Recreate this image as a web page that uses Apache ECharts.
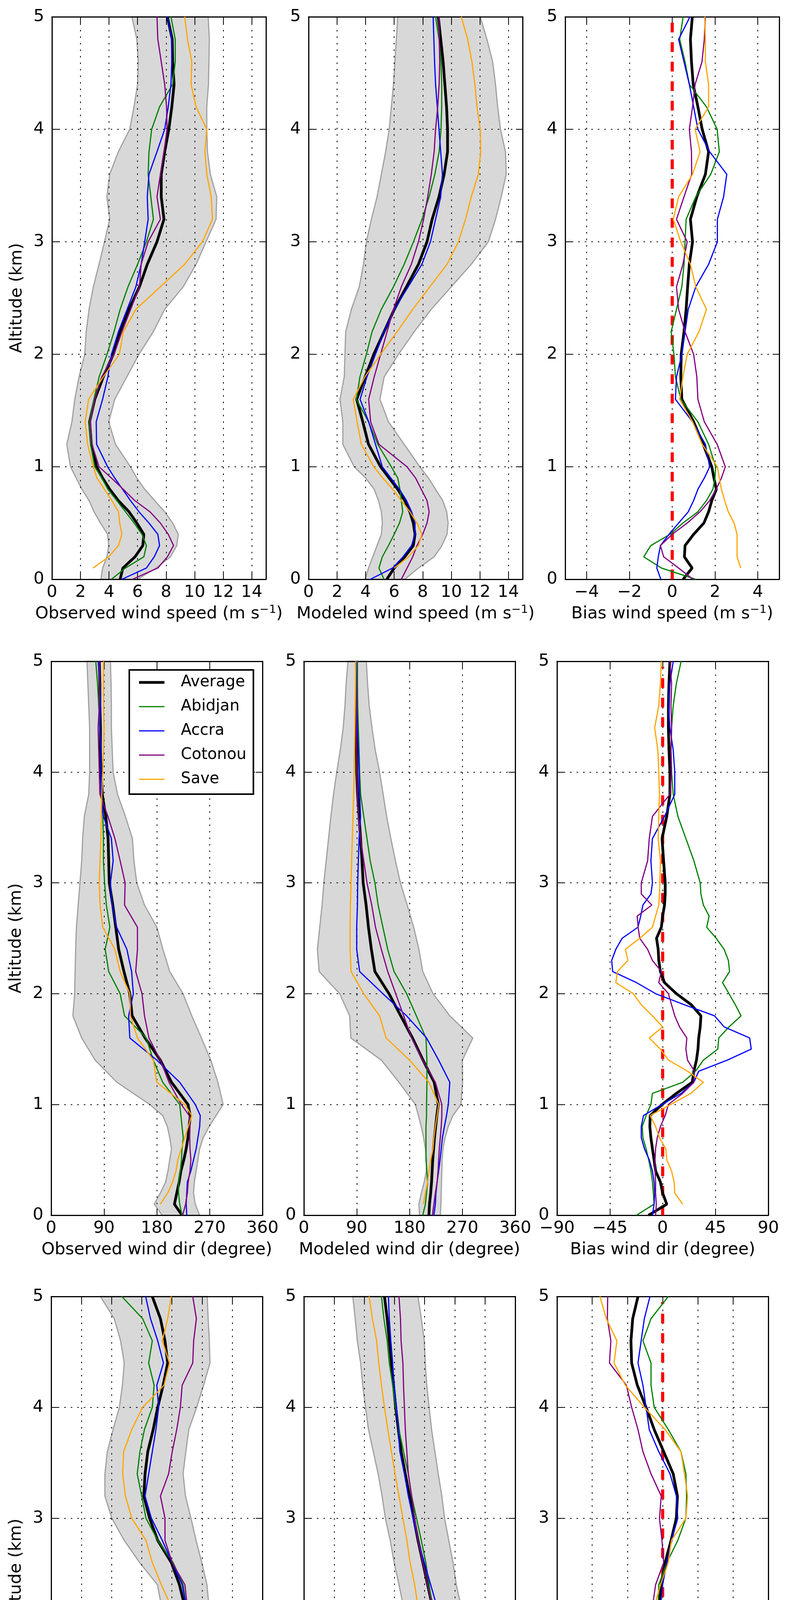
<!DOCTYPE html>
<html><head><meta charset="utf-8">
<script src="https://cdn.jsdelivr.net/npm/echarts/dist/echarts.min.js"></script>
<style>html,body{margin:0;padding:0;background:#fff}#c{width:2020px;height:4885px}</style>
</head><body><div id="c"></div>
<script>
// ---------------- DATA ----------------
const NAMES = ['Average','Abidjan','Accra','Cotonou','Save'];
const ALT = [0,0.1,0.2,0.3,0.4,0.5,0.6,0.7,0.8,0.9,1.0,1.2,1.4,1.6,1.8,2.0,2.2,2.4,2.6,2.8,3.0,3.2,3.4,3.6,3.8,4.0,4.2,4.4,4.6,4.8,5.0];
const ALT_FINE = [0,0.1,0.2,0.3,0.4,0.5,0.6,0.7,0.8,0.9,1.0,1.1,1.2,1.3,1.4,1.5,1.6,1.7,1.8,1.9,2.0,2.1,2.2,2.3,2.4,2.5,2.6,2.7,2.8,2.9,3.0,3.2,3.4,3.6,3.8,4.0,4.2,4.4,4.6,4.8,5.0];
const YT = [0,1,2,3,4,5];
const XT_WS = [0,2,4,6,8,10,12,14];
const XT_BWS = [-4,-2,0,2,4];
const XT_WD = [0,90,180,270,360];
const XT_BWD = [-90,-45,0,45,90];
const XT_RH = [40,50,60,70,80,90,100,110];
const XT_BRH = [-30,-20,-10,0,10,20,30];
const ZERO_LINE = [[0,0],[0,4.95]];

// Observed wind speed
const OWS_AVG = [4.78,4.97,5.82,6.37,6.44,5.95,5.4,4.65,4.05,3.55,3.13,2.76,2.64,3.0,3.6,4.3,4.78,5.4,6.13,6.68,7.36,7.85,7.66,7.66,7.9,8.19,8.4,8.56,8.46,8.43,8.09];
const OWS_ABI = [4.17,5.15,6.44,6.62,6.31,5.76,5.15,4.54,3.92,3.49,3.0,2.7,2.64,2.94,3.31,3.86,4.35,4.78,5.33,6.0,6.62,7.11,6.93,6.74,6.8,6.99,7.54,8.46,8.64,8.64,8.34];
const OWS_ACC = [4.9,6.62,7.17,7.54,7.42,6.8,6.1,5.5,4.95,4.4,3.9,3.13,3.1,3.55,3.92,4.17,4.66,5.27,5.88,6.25,6.5,6.74,6.68,6.8,7.36,7.9,8.15,8.34,8.4,8.4,8.09];
const OWS_COT = [5.64,7.42,8.09,8.52,8.15,7.6,6.87,5.8,5.0,4.17,3.3,2.8,2.7,3.0,3.49,4.35,4.9,5.52,6.13,6.25,6.74,7.6,7.36,7.6,7.85,8.07,8.03,7.9,7.66,7.42,7.36];
const OWS_SAV = [null,2.88,3.98,4.66,4.9,4.75,4.66,4.2,3.68,3.15,2.9,2.5,2.33,2.57,3.6,4.72,5.0,5.88,7.6,9.3,10.54,11.25,11.16,10.85,10.72,10.85,10.1,9.75,9.8,9.5,9.3];
const OWS_LO = [3.43,3.55,3.85,3.98,3.9,3.4,2.95,2.6,2.1,1.7,1.3,1.04,1.4,1.6,1.9,2.3,2.4,2.6,2.9,3.3,3.68,4.05,3.85,4.05,4.65,5.45,5.75,6.0,6.05,5.95,5.6];
const OWS_HI = [6.0,7.3,8.3,8.75,8.85,8.46,7.9,7.2,6.5,5.95,5.5,4.45,3.98,4.4,5.25,6.1,7.1,7.9,9.2,10.1,10.8,11.5,11.55,11.1,10.9,10.85,10.85,10.97,11.0,11.03,10.95];

// Modeled wind speed
const MWS_AVG = [5.48,6.0,6.74,7.34,7.46,7.34,7.1,6.74,6.25,5.65,5.05,4.2,3.8,3.37,3.97,4.57,5.29,6.01,6.86,7.7,8.3,8.66,9.14,9.5,9.74,9.74,9.67,9.55,9.43,9.26,9.09];
const MWS_ABI = [5.29,4.93,5.17,5.6,6.0,6.37,6.6,6.5,6.4,6.25,5.8,4.85,4.2,3.35,3.6,4.05,4.45,5.1,5.95,6.7,7.35,7.95,8.45,8.85,9.15,9.28,9.33,9.33,9.28,9.14,8.9];
const MWS_ACC = [4.33,5.89,6.62,7.22,7.46,7.46,7.22,6.86,6.37,5.77,5.17,4.69,4.21,3.61,4.09,4.69,5.29,6.01,6.98,7.94,8.54,8.9,9.26,9.38,9.26,9.14,9.02,8.9,8.83,8.78,8.73];
const MWS_COT = [6.5,6.9,7.3,7.6,8.0,8.3,8.45,8.3,7.9,7.5,6.9,4.93,4.35,4.21,4.6,5.05,5.5,5.95,6.5,7.2,7.7,8.06,8.35,8.6,8.8,8.9,9.05,9.15,9.19,9.16,9.14];
const MWS_SAV = [null,6.0,7.0,7.7,7.94,7.6,7.1,6.5,5.9,5.2,4.57,3.7,3.4,3.13,3.95,5.05,6.2,7.3,8.5,9.7,10.5,11.0,11.4,11.9,12.06,12.03,11.8,11.65,11.45,11.15,10.7];
const MWS_LO = [3.97,4.2,4.5,4.8,5.1,5.17,5.1,4.9,4.6,4.0,3.2,2.4,2.4,2.2,2.5,2.55,2.6,3.0,3.55,3.85,4.05,4.4,4.8,5.1,5.4,5.65,5.8,5.95,6.05,6.15,6.25];
const MWS_HI = [6.74,7.7,8.8,9.35,9.7,9.78,9.68,9.4,8.9,8.4,7.8,6.7,5.6,5.0,5.3,6.3,7.4,8.6,10.0,11.4,12.6,13.1,13.5,13.85,13.8,13.45,13.25,13.1,12.9,12.5,12.03];

// Bias wind speed
const BWS_AVG = [0.51,0.93,0.57,0.6,1.0,1.48,1.7,1.85,2.06,1.95,1.85,1.45,1.0,0.45,0.4,0.42,0.55,0.65,0.72,0.8,0.95,0.85,1.15,1.55,1.7,1.4,1.2,0.98,0.9,0.85,0.94];
const BWS_ABI = [1.1,-0.5,-1.33,-1.0,-0.1,0.5,1.2,1.6,1.9,2.0,2.03,1.7,1.2,0.4,0.15,0.08,-0.05,0.2,0.45,0.55,0.6,0.65,1.1,1.8,2.2,2.1,1.6,0.8,0.6,0.35,0.51];
const BWS_ACC = [-0.53,-0.72,-0.65,-0.55,-0.15,0.3,0.75,1.0,1.2,1.5,1.75,1.55,0.95,0.15,0.2,0.45,0.6,0.75,1.1,1.7,2.11,2.11,2.4,2.55,1.75,1.2,1.0,0.8,0.55,0.3,0.83];
const BWS_COT = [0.97,0.3,-0.4,-0.55,0.0,0.7,1.3,1.75,2.05,2.3,2.48,2.1,1.5,1.2,1.15,1.0,0.6,0.3,0.2,0.5,0.7,0.2,0.55,0.91,0.9,0.8,0.95,1.07,1.39,1.5,1.55];
const BWS_SAV = [null,3.2,3.03,3.03,3.03,2.89,2.62,2.45,2.3,2.2,2.11,1.4,0.95,0.35,0.5,0.7,1.25,1.6,1.1,0.85,0.4,0.05,0.3,0.95,1.3,1.07,1.7,1.7,1.55,1.55,1.52];

// Observed wind direction
const OWD_AVG = [223,210,214,218,221,226,230,233,235,237,233,205,186,160,138,134,124,115,110,105,99,98,97,93,87,85,84,84,83,83,82];
const OWD_ABI = [223,219,217,217,220,222,223,225,223,221,219,190,174,162,125,117.5,98,92,100,94,91,89,89,88,86,85,85,83,81,79,76];
const OWD_ACC = [231,230,231,232,238,242.5,247,250,253,254,245.5,219,180,134,132,140,137,129,111.5,104,101,105.6,102.6,89,85,85,85,83,84,83,80];
const OWD_COT = [224,229,232,233.5,236.5,238,236.5,236,236.5,235,221.7,200.8,186,166.6,159,154.7,144,147,147,125,126,117.5,108.6,96.7,83,82,81,80,82,83,82];
const OWD_SAV = [null,186,198.5,207,212.7,215.7,221.7,227.6,233.6,239.5,227.6,180,174,147,135,134,117.5,108.6,87.8,83.3,81.8,83.3,84.8,85.4,86.3,87.8,89.3,90.1,89.3,89.3,89.3];
const OWD_LO = [189,175.6,186,195,199,202,205,202,198,190,168,112,75,52,37,40,40.8,41.7,43,46,49,52,53.6,56.5,64,65.5,65.5,65.5,64,62.5,61];
const OWD_HI = [253,245.5,242.5,244,247,250,253,259,269,281,293,284,272,256,239.5,224.6,202,190.4,180,159,145.8,141,138.4,126.5,113,105.6,104,102.6,102.6,102,101];

// Modeled wind direction
const MWD_AVG = [213,214,216,217.5,218.5,219.5,221,222.5,224.5,226.5,229,222,203,185,165,145,121,115,110,106,101,99,96.6,94,91.5,90,89.6,89.6,89.6,89.6,89.6];
const MWD_ABI = [202.5,207,209,210.6,209.6,208,208,208,208,209,209,209.6,209.6,208,191.6,175,153.6,142.8,134.6,126.5,121,113,107.5,102,96.6,95,94,92.8,91.7,91.2,91.2];
const MWD_ACC = [221.5,224,225,227,229.6,232,234,236,239.4,243,246,248.6,229.6,209,175,134.6,95,90,90,91.2,91.7,92.8,94,96.6,95,94,92.8,91.2,90,89.6,89.6];
const MWD_COT = [219,221.5,224,227,228.6,229.6,230.7,232.4,234,235,235,224,202.5,183.5,170,156.4,142.8,132,122,115.6,107.5,102,96.6,92.8,91.2,90,89.6,89.6,89.6,89,88.5];
const MWD_SAV = [null,203.6,207,210.6,213.4,216,220,221.5,224,227,229.6,213,180,140,129,102,80.3,78.7,78.7,79.3,80.3,81.4,82.5,83.6,84.7,85.8,86.3,86.9,87.4,88,88.5];
const MWD_LO = [197,196,200,205,208.5,209,207,204,200,195,190,162,132,80,78,61,26,23,27,31,34,38,42,46,50.5,56,62,67,70,72,75];
const MWD_HI = [232.4,233.5,234,234.5,235,235.5,237,240.5,246,254,267.6,270.4,270,287.7,248.6,220,202.5,196,187,176,164.5,156,148.2,141,135,129,121.5,116,111.3,108.5,106.4];

// Bias wind direction (on ALT_FINE)
const BWD_AVG = [-12,3.5,0,-1.9,-6,-7.3,-8.7,-10,-10.9,-10.6,-0.5,11.7,25.2,26.6,28.8,30.1,30.7,32,32.6,24.4,11.7,1.6,-1.9,-3.3,-3.8,-5.2,-1.1,0,1.6,2.2,2.2,0.8,-0.5,3.5,6.2,6.2,5.4,4.9,4.9,5.4,6.2];
const BWD_ABI = [-22.3,-7.3,-7.9,-8.7,-10,-11.9,-14.1,-16.8,-17.4,-14.1,-10,-8.7,17.1,28,34.7,47,47.8,56.5,66.8,61.9,56.5,51,57,56,52.4,45.6,37.5,39.6,34.7,32.6,32,26.6,19.8,13,9,7.6,7.1,7.6,9,11.7,15.7];
const BWD_ACC = [-8.7,-7.3,-6.8,-7.3,-8.7,-11.4,-15.5,-18.2,-18.2,-16.3,-0.5,15.7,26.6,30.7,55.1,75.5,74.1,52.4,44.2,18.5,-6,-22.3,-42.6,-43.4,-39.9,-34.5,-21,-18.7,-16.8,-10,-8.7,-10,-8.7,1.6,10.3,10.3,9,6.2,4.9,6.2,9];
const BWD_COT = [-6,-5.4,-6,-6,-6.5,-6.5,-6,-4.6,-1.9,2.2,4.9,17.1,26.6,27.1,21.2,19.8,20.6,14.4,10.3,7.6,4.9,-3.3,-1.1,-8.7,-12.8,-19.5,-20.9,-21.7,-9.2,-18.2,-18.2,-12.8,-11.4,-8.7,6.2,7.6,7.1,7.6,7.1,7.6,6.2];
const BWD_SAV = [null,17.1,10.3,9.8,7.6,3.5,2.7,-2.7,-6,-10.6,7,24,34.7,21.2,5,-2,-11.4,0,-8.7,-18.2,-25,-39.9,-38.5,-29.6,-31.8,-19.5,-8.7,-6,-3.3,-2.7,-2.4,-1.9,-3.8,-3.3,-2.7,-3.3,-4.1,-6.8,-3.3,-1.9,-1.1];

// Observed RH
const ORH_AVG = [87.8,89.9,91.4,92,92.1,92.1,92.1,92.1,92.1,91.9,90.5,89,88.1,87.2,86.3,85.4,84.3,82.5,79.8,75.3,72.6,70.7,71.1,72,73.8,75.3,77.1,78.6,77.7,76.2,73.5];
const ORH_ABI = [87.1,88.4,89.1,88.7,88.4,88.3,87.7,87.5,87.8,88.7,89.9,90.2,90.5,89.9,87.5,85.7,84.8,83.7,80.4,75.3,71.4,70,68.5,69.4,70.9,73.5,74.1,72.3,73.5,70.3,63.4];
const ORH_ACC = [85.7,88.4,90.8,92.3,92.9,93.2,93.3,93.3,92.9,92,90.2,88.7,87.8,87.5,87.5,86.3,84.8,83.4,80.1,76.8,73.2,71.1,72.3,73.5,74.7,75.6,75,77.2,75.3,72.9,71.3];
const ORH_COT = [92,95.3,96.2,94.1,92.9,92,91.1,90.8,91.1,91.7,89.6,89,88.4,87.8,86.9,86,85.1,84.3,80.1,77.7,77.7,76.2,78.9,80.1,81.6,82.8,83.4,86.9,87.2,88.1,86.9];
const ORH_SAV = [null,90.8,92.1,93.3,94.7,95.6,95.7,95.6,94.1,92.6,90.8,88.4,86.6,86,84.8,82.2,79.8,76.5,73.5,71.4,66.7,64.6,63.7,64,66.7,70.3,77.4,79.2,76.8,78.6,79.8];
const ORH_LO = [80.4,82.8,84.6,85.4,86,86.2,86.3,86.5,86.8,86.9,85.2,82.8,81.2,80.2,79.2,77.8,76.6,75.2,69.3,64.2,60.1,57.8,57.8,58.6,60.5,62.6,63.6,64.2,63,60.9,56.3];
const ORH_HI = [95.9,97.7,98.4,98.8,99,99,98.8,98.4,97.8,97.4,96.9,96.2,95.2,93.9,93.4,92.9,92.3,91.6,89.9,88,86.3,84.5,83.7,84.6,85.6,88.2,90.5,92.6,92.4,92.0,91.7];

// Modeled RH
const MRH_AVG = [86.6,88.9,90.5,90.8,90.5,90.2,90,90,90,89.7,89.6,89.1,87.8,86.6,85.2,83.8,82.6,81,79.4,77.8,76.4,75,73.6,72.2,71.3,70.4,69.7,69,68.3,67.6,66.7];
const MRH_ABI = [88.4,92.9,94.7,92.6,91.5,90.8,90,88.9,87.3,85.9,85.2,84.1,83.8,83.6,83.6,83.6,82.6,81.5,80.4,78.9,77.3,75.7,74.6,73,71.5,70.4,69.4,68.3,67.6,66.5,65.7];
const MRH_ACC = [84.7,87.8,90.5,92.1,92.1,91.5,91,90.5,90.2,90,89.6,89.1,88.7,88,86.8,85.5,84.1,82,79.9,77.8,76.2,74.6,73.3,71.8,71.3,70.7,69.9,69.4,68.8,68.3,68];
const MRH_COT = [87.3,89.9,92.1,93.6,92.1,91,89.4,88.4,87.8,87.6,87.5,87.5,87,86.2,85.5,83.6,82.6,81,79.4,77.8,76.7,75.7,74.6,74.1,73.6,73.3,73,72.8,72.2,72,71.5];
const MRH_SAV = [null,86.5,87,87.5,88.4,89.4,90.5,91.5,92.6,93.1,93.3,92.1,89.4,86.8,84.1,81,77.8,76.7,75.2,74.1,72.8,71.5,70.2,69,67.8,66.7,65.7,64.8,64.1,62.7,61.6];
const MRH_LO = [80.2,82,84.1,85.2,85.5,85.2,84.9,84.1,83.4,82.8,82,81,79.4,78.1,76.2,74.6,73,71.5,69.9,68.6,67,65.9,64.6,63,61.4,60.4,59.5,58.8,57.7,57,56.2];
const MRH_HI = [93.1,96.8,98.2,97.9,96.5,95.7,95.4,95.4,95.4,95.7,95.7,95.4,95,94.7,93.6,92.9,92.1,90.5,89.4,88,86.6,85.7,84.5,83.4,82.3,81.5,80.7,80.2,79.9,78.9,77.8];

// Bias RH
const BRH_AVG = [-1.3,-1.1,-1.3,-1.4,-1.8,-2.2,-2.4,-2.5,-2.4,-2.2,-1.8,-1.3,-0.9,-1.5,-1.3,-1.1,-0.9,-0.4,0.7,2.4,3.9,4.2,3,0.3,-2.4,-4.7,-7.2,-8.8,-9.0,-8.5,-7];
const BRH_ABI = [1.6,5.4,5.4,3.4,2.5,2.4,1.6,0.3,-1.1,-3.1,-4.5,-5.8,-6.3,-6.2,-3.8,-2,-1.3,-1.1,1.2,4.3,6.6,6.8,6.6,5.2,1.6,-2.4,-3.3,-3.3,-5.6,-3.3,1.6];
const BRH_ACC = [-1.8,-1.1,-0.6,-0.4,-0.6,-1.1,-2,-2.2,-2,-1.5,-0.9,-0.2,0.3,0.7,-0.2,-1.1,-0.6,0,1.2,2.5,4.3,3.9,2.1,-1.1,-3.8,-4.7,-5.6,-7,-6.1,-5.2,-3.6];
const BRH_COT = [-5.8,-3.8,-1.1,-0.2,-0.9,-1.5,-2.4,-2.9,-3.3,-4,-2.4,-2,-2.4,-2.4,-1.5,-1.1,-2.9,-2,0.3,-0.2,-0.9,-0.4,-3.3,-5.6,-7,-8.8,-10.3,-15.1,-14.7,-15.7,-15.6];
const BRH_SAV = [null,-2.9,-3.8,-4.7,-5.4,-5.6,-5.2,-2.9,-0.2,1.6,2.5,3.4,3,-0.2,-1.1,-2,-2.4,-0.6,1.6,2.5,6.6,7.1,6.2,5.2,0.7,-5.2,-10.6,-13.8,-13,-16,-17.8];

// ---------------- LAYOUT / STYLE ----------------
const FONT = 'DejaVu Sans';
const COLORS = {Average:'#000000', Abidjan:'#008000', Accra:'#0000ff', Cotonou:'#800080', Save:'#ffa500'};
const WIDTHS = {Average:7, Abidjan:3, Accra:3, Cotonou:3, Save:3};
const SUP = '{sup|\u22121}';

const PANELS = [
  {grid:[133,43,548,1440], xr:[0,15], step:2, ticks:XT_WS, title:'Observed wind speed (m s'+SUP+')', alt:ALT, lines:[OWS_AVG,OWS_ABI,OWS_ACC,OWS_COT,OWS_SAV], lo:OWS_LO, hi:OWS_HI},
  {grid:[790,43,548,1440], xr:[0,15], step:2, ticks:XT_WS, title:'Modeled wind speed (m s'+SUP+')', alt:ALT, lines:[MWS_AVG,MWS_ABI,MWS_ACC,MWS_COT,MWS_SAV], lo:MWS_LO, hi:MWS_HI},
  {grid:[1447,43,548,1440], xr:[-5,5], step:2, ticks:XT_BWS, title:'Bias wind speed (m s'+SUP+')', alt:ALT, lines:[BWS_AVG,BWS_ABI,BWS_ACC,BWS_COT,BWS_SAV], bias:true},
  {grid:[131,1693,541,1418], xr:[0,360], step:90, ticks:XT_WD, title:'Observed wind dir (degree)', alt:ALT, lines:[OWD_AVG,OWD_ABI,OWD_ACC,OWD_COT,OWD_SAV], lo:OWD_LO, hi:OWD_HI},
  {grid:[778,1693,541,1418], xr:[0,360], step:90, ticks:XT_WD, title:'Modeled wind dir (degree)', alt:ALT, lines:[MWD_AVG,MWD_ABI,MWD_ACC,MWD_COT,MWD_SAV], lo:MWD_LO, hi:MWD_HI},
  {grid:[1426,1693,541,1418], xr:[-90,90], step:45, ticks:XT_BWD, title:'Bias wind dir (degree)', alt:ALT_FINE, lines:[BWD_AVG,BWD_ABI,BWD_ACC,BWD_COT,BWD_SAV], bias:true},
  {grid:[131,3319,541,1419], xr:[40,110], step:10, ticks:XT_RH, title:'Observed RH (%)', alt:ALT, lines:[ORH_AVG,ORH_ABI,ORH_ACC,ORH_COT,ORH_SAV], lo:ORH_LO, hi:ORH_HI},
  {grid:[778,3319,541,1419], xr:[40,110], step:10, ticks:XT_RH, title:'Modeled RH (%)', alt:ALT, lines:[MRH_AVG,MRH_ABI,MRH_ACC,MRH_COT,MRH_SAV], lo:MRH_LO, hi:MRH_HI},
  {grid:[1426,3319,541,1419], xr:[-30,30], step:10, ticks:XT_BRH, title:'Bias RH (%)', alt:ALT, lines:[BRH_AVG,BRH_ABI,BRH_ACC,BRH_COT,BRH_SAV], bias:true}
];

function fmtNum(v){ return v < 0 ? '\u2212' + Math.abs(v) : String(v); }
function tickFormatter(list){ return v => list.some(t => Math.abs(t - v) < 1e-9) ? fmtNum(v) : ''; }

const AX_LINE = {show:true, onZero:false, lineStyle:{color:'#000', width:3}};
const AX_TICK = {show:true, inside:true, length:17, lineStyle:{color:'#000', width:2}};
const SPLIT = {show:true, lineStyle:{color:'#000', width:2, type:[4,12.7]}};
const LABEL = {show:true, color:'#000', fontSize:43, fontFamily:FONT, showMinLabel:true, showMaxLabel:true, hideOverlap:false};

const grids = [], xAxes = [], yAxes = [], series = [];

PANELS.forEach((p, i) => {
  grids.push({left:p.grid[0], top:p.grid[1], width:p.grid[2], height:p.grid[3], containLabel:false, show:false});
  const scaleX = {min:p.xr[0], max:p.xr[1]};
  if (p.xr[0] % p.step === 0) scaleX.interval = p.step;
  else { scaleX.splitNumber = Math.round((p.xr[1]-p.xr[0])/p.step); scaleX.minInterval = p.step; scaleX.maxInterval = p.step; }
  xAxes.push(Object.assign({type:'value', gridIndex:i, position:'bottom', z:3,
    axisLine:AX_LINE, axisTick:AX_TICK, splitLine:SPLIT,
    axisLabel:Object.assign({}, LABEL, {margin:12, formatter:tickFormatter(p.ticks)}),
    name:p.title, nameLocation:'middle', nameGap:64,
    nameTextStyle:{color:'#000', fontSize:43, fontFamily:FONT, lineHeight:50,
      rich:{sup:{fontSize:29, lineHeight:29, verticalAlign:'top', fontFamily:FONT, color:'#000'}}}
  }, scaleX));
  xAxes.push(Object.assign({type:'value', gridIndex:i, position:'top', z:3,
    axisLine:AX_LINE, axisTick:AX_TICK, splitLine:{show:false}, axisLabel:{show:false}}, scaleX));
  const yl = {type:'value', gridIndex:i, position:'left', min:0, max:5, interval:1, z:3,
    axisLine:AX_LINE, axisTick:AX_TICK, splitLine:SPLIT,
    axisLabel:Object.assign({}, LABEL, {margin:20, formatter:tickFormatter(YT)})};
  if (i % 3 === 0) {
    Object.assign(yl, {name:'Altitude (km)', nameLocation:'middle', nameGap:68, nameRotate:90,
      nameTextStyle:{color:'#000', fontSize:43, fontFamily:FONT}});
  }
  yAxes.push(yl);
  yAxes.push({type:'value', gridIndex:i, position:'right', min:0, max:5, interval:1, z:3,
    axisLine:AX_LINE, axisTick:AX_TICK, splitLine:{show:false}, axisLabel:{show:false}});

  const xi = 2*i, yi = 2*i;
  if (p.lo) {
    const lo = p.lo, hi = p.hi, alt = p.alt;
    series.push({type:'custom', name:'envelope', xAxisIndex:xi, yAxisIndex:yi, z:1, silent:true,
      animation:false, data:[[lo[0], alt[0]]],
      renderItem:(params, api) => {
        const pts = [];
        for (let k = 0; k < alt.length; k++) pts.push(api.coord([lo[k], alt[k]]));
        for (let k = alt.length - 1; k >= 0; k--) pts.push(api.coord([hi[k], alt[k]]));
        return {type:'polygon', shape:{points:pts}, style:{fill:'#d8d8d8', stroke:'#a0a0a0', lineWidth:3}};
      }});
  }
  if (p.bias) {
    series.push({type:'line', name:'zero', xAxisIndex:xi, yAxisIndex:yi, z:4, silent:true, animation:false,
      symbol:'none', data:ZERO_LINE, lineStyle:{color:'#ff0000', width:8, type:[25,25]}});
  }
  p.lines.forEach((vals, k) => {
    const nm = NAMES[k];
    const data = [];
    vals.forEach((v, j) => { if (v !== null) data.push([v, p.alt[j]]); });
    series.push({type:'line', name:nm, xAxisIndex:xi, yAxisIndex:yi, z:5 + k, silent:true, animation:false,
      symbol:'none', showSymbol:false, data:data, clip:true,
      lineStyle:{color:COLORS[nm], width:WIDTHS[nm]}, itemStyle:{color:COLORS[nm]}});
  });
});

const legendData = NAMES.map(nm => ({name:nm,
  icon: 'path://M0,0H65V' + WIDTHS[nm] + 'H0Z',
  itemStyle:{color:COLORS[nm], borderWidth:0}}));

const chart = echarts.init(document.getElementById('c'), null, {renderer:'canvas', width:2020, height:4885});
chart.setOption({
  backgroundColor:'#ffffff',
  animation:false,
  grid:grids, xAxis:xAxes, yAxis:yAxes, series:series,
  legend:{show:true, data:legendData, orient:'vertical', left:331, top:1715, z:20, selectedMode:false,
    padding:[7,18,13,25], itemWidth:65, itemHeight:14, itemGap:12, symbolKeepAspect:true,
    itemStyle:{borderWidth:0},
    backgroundColor:'#ffffff', borderColor:'#000000', borderWidth:4, borderRadius:0,
    formatter: nm => '{t|' + nm + '}',
    textStyle:{color:'#000', fontSize:40, fontFamily:FONT, lineHeight:50,
      rich:{t:{color:'#000', fontSize:40, fontFamily:FONT, lineHeight:50, padding:[0,0,0,37]}}}}
});
</script></body></html>
